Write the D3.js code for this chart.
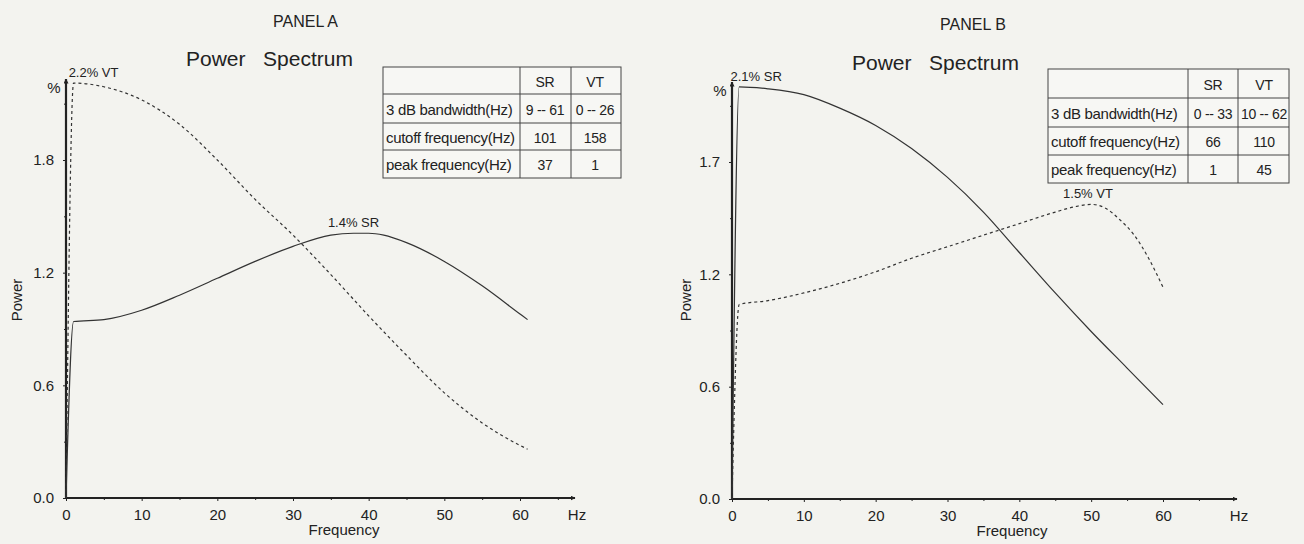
<!DOCTYPE html>
<html>
<head>
<meta charset="utf-8">
<script src="https://cdn.jsdelivr.net/npm/d3@7/dist/d3.min.js"></script>
<style>
  body { margin:0; background:#f3f3ef; }
  svg { display:block; font-family:"Liberation Sans", Arial, sans-serif; }
  .tick text { font-size:15px; fill:#222; }
  .tick line { stroke:#222; }
</style>
</head>
<body>
<svg id="chart" width="1304" height="544"></svg>
<script>
// ---- data ----
var freqSrA = [0, 1, 5, 10, 15, 20, 25, 30, 35, 38, 40, 42, 45, 50, 55, 60, 61];
var srA     = [0, 0.94, 0.95, 1.00, 1.08, 1.17, 1.26, 1.34, 1.40, 1.41, 1.41, 1.40, 1.36, 1.26, 1.13, 0.98, 0.95];
var freqVtA = [0, 1, 5, 10, 15, 20, 25, 30, 35, 40, 45, 50, 55, 60, 61];
var vtA     = [0, 2.21, 2.19, 2.12, 1.99, 1.80, 1.59, 1.40, 1.19, 0.97, 0.76, 0.56, 0.40, 0.28, 0.26];

var freqSrB = [0, 1, 5, 10, 15, 20, 25, 30, 35, 40, 45, 50, 55, 60];
var srB     = [0, 2.14, 2.13, 2.10, 2.03, 1.94, 1.82, 1.67, 1.49, 1.28, 1.07, 0.87, 0.68, 0.49];
var freqVtB = [0, 1, 5, 10, 15, 20, 25, 30, 35, 40, 45, 48, 50, 52, 54, 56, 58, 60];
var vtB     = [0, 1.01, 1.03, 1.07, 1.12, 1.18, 1.25, 1.31, 1.37, 1.43, 1.49, 1.52, 1.53, 1.51, 1.45, 1.37, 1.25, 1.10];

var xTicks      = [0, 10, 20, 30, 40, 50, 60];
var xMinorTicks = [5, 15, 25, 35, 45, 55, 65];
var yTicksA      = [0, 0.6, 1.2, 1.8];
var yTickLabelsA = ["0.0", "0.6", "1.2", "1.8"];
var yMinorA      = [0.3, 0.9, 1.5, 2.1];
var yTicksB      = [0, 0.5833, 1.1667, 1.75];
var yTickLabelsB = ["0.0", "0.6", "1.2", "1.7"];
var yMinorB      = [0.2917, 0.875, 1.4583, 2.0417];

var tableHeader = ["", "SR", "VT"];
var tableRowsA = [
  ["3 dB bandwidth(Hz)", "9 -- 61", "0 -- 26"],
  ["cutoff frequency(Hz)", "101", "158"],
  ["peak frequency(Hz)", "37", "1"]
];
var tableRowsB = [
  ["3 dB bandwidth(Hz)", "0 -- 33", "10 -- 62"],
  ["cutoff frequency(Hz)", "66", "110"],
  ["peak frequency(Hz)", "1", "45"]
];

var ink = "#222";
var svg = d3.select("#chart");

svg.append("defs").append("marker")
  .attr("id", "arrow")
  .attr("viewBox", "0 0 10 10")
  .attr("refX", 9).attr("refY", 5)
  .attr("markerWidth", 5).attr("markerHeight", 5)
  .attr("markerUnits", "userSpaceOnUse")
  .attr("orient", "auto")
  .append("path").attr("d", "M0,0L10,5L0,10z").attr("fill", ink);

function drawPanel(p) {
  var g = svg.append("g");

  var x = d3.scaleLinear().domain([0, 60]).range(p.xRange);
  var y = d3.scaleLinear().domain(p.yDomain).range(p.yRange);

  // titles
  g.append("text").attr("x", p.panelX).attr("y", p.panelY)
    .attr("font-size", 16).attr("fill", ink).text(p.panel);
  g.append("text").attr("x", p.titleX).attr("y", p.titleY)
    .attr("font-size", 21).attr("fill", ink).attr("xml:space", "preserve")
    .text("Power   Spectrum");

  // x axis
  g.append("g")
    .attr("transform", "translate(0," + y(0) + ")")
    .call(d3.axisBottom(x).tickValues(xTicks).tickSize(3).tickPadding(8).tickFormat(d3.format("d")))
    .call(function(a){ a.select(".domain").remove(); });
  g.append("g")
    .attr("transform", "translate(0," + y(0) + ")")
    .call(d3.axisBottom(x).tickValues(xMinorTicks).tickSize(2).tickFormat(""))
    .call(function(a){ a.select(".domain").remove(); });
  g.append("line")
    .attr("x1", x(0)).attr("x2", p.xArrow)
    .attr("y1", y(0)).attr("y2", y(0))
    .attr("stroke", ink).attr("stroke-width", 1.8)
    .attr("marker-end", "url(#arrow)");

  // y axis
  g.append("g")
    .attr("transform", "translate(" + x(0) + ",0)")
    .call(d3.axisLeft(y).tickValues(p.yTicks).tickSize(3).tickPadding(9)
      .tickFormat(function(d, i){ return p.yTickLabels[i]; }))
    .call(function(a){ a.select(".domain").remove(); });
  g.append("g")
    .attr("transform", "translate(" + x(0) + ",0)")
    .call(d3.axisLeft(y).tickValues(p.yMinor).tickSize(2).tickFormat(""))
    .call(function(a){ a.select(".domain").remove(); });
  g.append("line")
    .attr("x1", x(0)).attr("x2", x(0))
    .attr("y1", y(0)).attr("y2", p.yArrow)
    .attr("stroke", ink).attr("stroke-width", 2.2)
    .attr("marker-end", "url(#arrow)");

  g.append("text").attr("x", p.xArrow + 2).attr("y", y(0) + 22)
    .attr("text-anchor", "middle").attr("font-size", 15).attr("fill", ink).text("Hz");
  g.append("text").attr("x", p.freqX).attr("y", y(0) + 37)
    .attr("text-anchor", "middle").attr("font-size", 15).attr("fill", ink).text("Frequency");
  g.append("text").attr("x", x(0) - 12).attr("y", p.yArrow + 14)
    .attr("text-anchor", "middle").attr("font-size", 15).attr("fill", ink).text("%");
  g.append("text")
    .attr("transform", "translate(" + p.powerX + "," + p.powerY + ") rotate(-90)")
    .attr("text-anchor", "middle").attr("font-size", 15).attr("fill", ink).text("Power");

  // curves
  var line = d3.line()
    .x(function(d){ return x(d[0]); })
    .y(function(d){ return y(d[1]); })
    .curve(d3.curveMonotoneX);

  var sr = d3.zip(p.freqSr, p.sr);
  var vt = d3.zip(p.freqVt, p.vt);

  g.append("path").datum(vt).attr("d", line)
    .attr("fill", "none").attr("stroke", "#333").attr("stroke-width", 1.2)
    .attr("stroke-dasharray", "3,3");
  g.append("path").datum(sr).attr("d", line)
    .attr("fill", "none").attr("stroke", "#333").attr("stroke-width", 1.2);

  // peak labels
  p.peaks.forEach(function(k) {
    g.append("text").attr("x", x(k.f) + k.dx).attr("y", y(k.v) - 6)
      .attr("text-anchor", "middle").attr("font-size", 13).attr("fill", ink).text(k.text);
  });

  // table
  var t = p.table;
  var tg = g.append("g");
  var rows = [tableHeader].concat(p.rows);
  var rowY = [t.top].concat(t.rowLines).concat([t.bottom]);
  tg.append("rect").attr("x", t.left).attr("y", t.top)
    .attr("width", t.right - t.left).attr("height", t.bottom - t.top)
    .attr("fill", "#f7f7f4").attr("stroke", "#444").attr("stroke-width", 1);
  t.rowLines.forEach(function(ry) {
    tg.append("line").attr("x1", t.left).attr("x2", t.right)
      .attr("y1", ry).attr("y2", ry).attr("stroke", "#444");
  });
  t.colLines.forEach(function(cx) {
    tg.append("line").attr("x1", cx).attr("x2", cx)
      .attr("y1", t.top).attr("y2", t.bottom).attr("stroke", "#444");
  });
  rows.forEach(function(r, i) {
    var base = rowY[i] + (rowY[i + 1] - rowY[i]) / 2 + 6;
    tg.append("text").attr("x", t.left + 3).attr("y", base)
      .attr("font-size", 15).attr("letter-spacing", -0.3).attr("fill", ink).text(r[0]);
    tg.append("text").attr("x", t.c1).attr("y", base).attr("text-anchor", "middle")
      .attr("font-size", 14).attr("letter-spacing", -0.3).attr("fill", ink).text(r[1]);
    tg.append("text").attr("x", t.c2).attr("y", base).attr("text-anchor", "middle")
      .attr("font-size", 14).attr("letter-spacing", -0.3).attr("fill", ink).text(r[2]);
  });
}

drawPanel({
  panel: "PANEL A", panelX: 273, panelY: 27, titleX: 186, titleY: 66,
  xRange: [66, 520], yDomain: [0, 1.8], yRange: [498, 160],
  xArrow: 575, yArrow: 79, freqX: 344, powerX: 22, powerY: 300,
  yTicks: yTicksA, yTickLabels: yTickLabelsA, yMinor: yMinorA,
  freqSr: freqSrA, sr: srA, freqVt: freqVtA, vt: vtA,
  peaks: [{ f: 1, v: 2.21, dx: 20, text: "2.2% VT" }, { f: 38, v: 1.41, dx: 0, text: "1.4% SR" }],
  rows: tableRowsA,
  table: { left: 383, right: 621, top: 67, bottom: 178, rowLines: [94, 123, 150], colLines: [520, 571], c1: 545, c2: 595 }
});

drawPanel({
  panel: "PANEL B", panelX: 940, panelY: 30, titleX: 852, titleY: 70,
  xRange: [732, 1163], yDomain: [0, 1.75], yRange: [499, 162],
  xArrow: 1237, yArrow: 82, freqX: 1012, powerX: 691, powerY: 300,
  yTicks: yTicksB, yTickLabels: yTickLabelsB, yMinor: yMinorB,
  freqSr: freqSrB, sr: srB, freqVt: freqVtB, vt: vtB,
  peaks: [{ f: 1, v: 2.14, dx: 17, text: "2.1% SR" }, { f: 49, v: 1.53, dx: 4, text: "1.5% VT" }],
  rows: tableRowsB,
  table: { left: 1048, right: 1289, top: 69, bottom: 183, rowLines: [98, 127, 155], colLines: [1188, 1238], c1: 1213, c2: 1264 }
});
</script>
</body>
</html>
